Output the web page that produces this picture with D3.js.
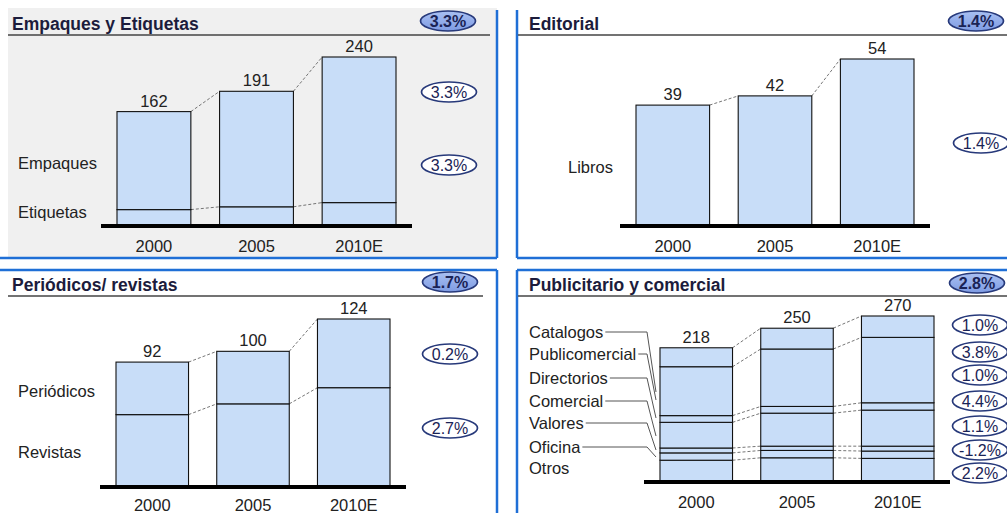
<!DOCTYPE html>
<html><head><meta charset="utf-8">
<script src="https://cdn.jsdelivr.net/npm/d3@7"></script>
<style>
html,body{margin:0;padding:0;background:#fff;}
svg{display:block;font-family:"Liberation Sans",Arial,sans-serif;}
</style></head>
<body>
<svg id="c" width="1007" height="513"></svg>
<script>
// ---------- data ----------
const years = ["2000", "2005", "2010E"];

// Empaques y Etiquetas
const etiquetas = [22, 26, 32];
const empaques = [140, 165, 208];
const growthEmpTitle = "3.3%";
const growthEmp = ["3.3%", "3.3%"]; // Empaques, Etiquetas

// Editorial
const libros = [39, 42, 54];
const growthEdiTitle = "1.4%";
const growthEdi = ["1.4%"];

// Periódicos / revistas
const revistas = [53, 61, 73];
const periodicos = [39, 39, 51];
const growthPerTitle = "1.7%";
const growthPer = ["0.2%", "2.7%"];

// Publicitario y comercial (bottom to top)
const otros = [34, 38, 37];
const oficina = [12, 12, 12];
const valores = [8, 7, 8];
const comercial = [42, 54, 59];
const directorios = [11, 11, 12];
const publicomercial = [80, 94, 107];
const catalogos = [31, 34, 35];
const growthPubTitle = "2.8%";
const growthPub = ["1.0%", "3.8%", "1.0%", "4.4%", "1.1%", "-1.2%", "2.2%"]; // top to bottom

// ---------- drawing ----------
const svg = d3.select("#c");
const BLUE = "#1f6fd6";
const LBL = 16.5;

// panel frames
svg.append("rect").attr("x", 8).attr("y", 8).attr("width", 489).attr("height", 250).attr("fill", "#f0f0f0");
const frame = [
  [497, 10, 497, 258], [0, 258, 497, 258],
  [517, 10, 517, 258], [517, 258, 1007, 258],
  [0, 270, 497, 270], [497, 270, 497, 513],
  [517, 270, 1007, 270], [517, 270, 517, 513]
];
svg.selectAll("line.frame").data(frame).enter().append("line").attr("class", "frame")
  .attr("x1", d => d[0]).attr("y1", d => d[1]).attr("x2", d => d[2]).attr("y2", d => d[3])
  .attr("stroke", BLUE).attr("stroke-width", 2.5);

const defs = svg.append("defs");
const gr = defs.append("linearGradient").attr("id", "ovalFill").attr("x1", 0).attr("y1", 0).attr("x2", 0).attr("y2", 1);
gr.append("stop").attr("offset", "0%").attr("stop-color", "#a9c0f2");
gr.append("stop").attr("offset", "100%").attr("stop-color", "#7e9be3");

function oval(g, cx, cy, txt, filled) {
  g.append("ellipse").attr("cx", cx).attr("cy", cy).attr("rx", 27.5).attr("ry", 10)
    .attr("fill", filled ? "url(#ovalFill)" : "#fff").attr("stroke", "#27397a").attr("stroke-width", 1.7);
  g.append("text").attr("x", cx).attr("y", cy + 5.5).attr("text-anchor", "middle")
    .attr("font-size", 16).attr("font-weight", filled ? "bold" : "normal").attr("fill", "#1a2355").text(txt);
}

function panel(cfg) {
  const g = svg.append("g");
  // title
  g.append("text").attr("x", cfg.titleX).attr("y", cfg.titleY).attr("font-size", 17.5).attr("font-weight", "bold")
    .attr("fill", "#1c1c3c").text(cfg.title);
  g.append("line").attr("x1", cfg.ulX[0]).attr("x2", cfg.ulX[1]).attr("y1", cfg.titleY + 5).attr("y2", cfg.titleY + 5)
    .attr("stroke", "#444").attr("stroke-width", 1.4);
  oval(g, cfg.titleOval[0], cfg.titleOval[1], cfg.titleGrowth, true);

  const x = d3.scaleBand().domain(years).range(cfg.xr).paddingInner(0.28).paddingOuter(0);
  const y = d3.scaleLinear().domain([0, cfg.maxV]).range([cfg.base, cfg.topY]);
  const keys = cfg.series.map((s, i) => "s" + i);
  const rows = years.map((yr, j) => {
    const r = { year: yr };
    cfg.series.forEach((s, i) => r["s" + i] = s[j]);
    return r;
  });
  const stacked = d3.stack().keys(keys)(rows);
  const bw = x.bandwidth();

  // connectors
  stacked.forEach(layer => {
    for (let j = 0; j < years.length - 1; j++) {
      g.append("line")
        .attr("x1", x(years[j]) + bw).attr("y1", y(layer[j][1]))
        .attr("x2", x(years[j + 1])).attr("y2", y(layer[j + 1][1]))
        .attr("stroke", "#666").attr("stroke-width", 0.9).attr("stroke-dasharray", "3,2");
    }
  });

  // bars
  stacked.forEach(layer => {
    g.selectAll(null).data(layer).enter().append("rect")
      .attr("x", d => x(d.data.year)).attr("width", bw)
      .attr("y", d => y(d[1])).attr("height", d => y(d[0]) - y(d[1]))
      .attr("fill", "#c8ddf8").attr("stroke", "#111").attr("stroke-width", 1.1);
  });

  // totals
  const totals = years.map((yr, j) => d3.sum(cfg.series, s => s[j]));
  g.selectAll(null).data(totals).enter().append("text")
    .attr("x", (d, j) => x(years[j]) + bw / 2).attr("y", d => y(d) - 5)
    .attr("text-anchor", "middle").attr("font-size", LBL).attr("fill", "#222").text(d => d);

  // axis
  g.append("line").attr("x1", cfg.xr[0] - 16).attr("x2", cfg.xr[1] + 16)
    .attr("y1", cfg.base + 1).attr("y2", cfg.base + 1).attr("stroke", "#000").attr("stroke-width", 4);
  const ax = g.append("g").attr("transform", `translate(0,${cfg.base})`)
    .call(d3.axisBottom(x).tickSize(0).tickPadding(cfg.tickPad));
  ax.select(".domain").remove();
  ax.selectAll("text").attr("font-size", LBL).attr("fill", "#222").attr("font-family", "Liberation Sans, Arial, sans-serif");

  // segment labels
  cfg.labels.forEach(l => {
    const t = g.append("text").attr("x", cfg.labelX).attr("y", l.y).attr("font-size", LBL).attr("fill", "#222").text(l.name);
    if (l.lead) {
      const end = cfg.labelX + t.node().getComputedTextLength();
      const cy = l.y - 6;
      const pts = end + 2 < cfg.leadX ? [[end + 2, cy], [cfg.leadX, cy], [cfg.leadEndX, l.lead]] : [[end + 2, cy], [cfg.leadEndX, l.lead]];
      g.append("path").attr("d", d3.line()(pts)).attr("fill", "none").attr("stroke", "#555").attr("stroke-width", 1);
    }
  });

  // growth ovals
  cfg.growth.forEach((gtxt, i) => oval(g, cfg.ovalX, cfg.ovalY[i], gtxt, false));
}

panel({
  title: "Empaques y Etiquetas", titleX: 12, titleY: 30, ulX: [8, 490], titleOval: [448, 21], titleGrowth: growthEmpTitle,
  series: [etiquetas, empaques], xr: [117, 396], base: 225, maxV: 240, topY: 57, tickPad: 15,
  labelX: 18, labels: [{ name: "Empaques", y: 169 }, { name: "Etiquetas", y: 218 }],
  ovalX: 449, ovalY: [92, 165], growth: growthEmp
});
panel({
  title: "Editorial", titleX: 529, titleY: 30, ulX: [518, 1007], titleOval: [976, 21], titleGrowth: growthEdiTitle,
  series: [libros], xr: [636, 914], base: 225, maxV: 54, topY: 59, tickPad: 15,
  labelX: 568, labels: [{ name: "Libros", y: 173 }],
  ovalX: 981, ovalY: [143], growth: growthEdi
});
panel({
  title: "Periódicos/ revistas", titleX: 12, titleY: 291, ulX: [8, 483], titleOval: [450, 282], titleGrowth: growthPerTitle,
  series: [revistas, periodicos], xr: [116, 390], base: 486, maxV: 124, topY: 319, tickPad: 13,
  labelX: 18, labels: [{ name: "Periódicos", y: 397 }, { name: "Revistas", y: 458 }],
  ovalX: 450, ovalY: [354, 428], growth: growthPer
});
panel({
  title: "Publicitario y comercial", titleX: 529, titleY: 291, ulX: [518, 1007], titleOval: [977, 283], titleGrowth: growthPubTitle,
  series: [otros, oficina, valores, comercial, directorios, publicomercial, catalogos], xr: [660, 934], base: 481, maxV: 270, topY: 316, tickPad: 15,
  labelX: 529, leadX: 647, leadEndX: 656,
  labels: [
    { name: "Catalogos", y: 338, lead: 392 },
    { name: "Publicomercial", y: 360, lead: 400 },
    { name: "Directorios", y: 384, lead: 418 },
    { name: "Comercial", y: 407, lead: 436 },
    { name: "Valores", y: 429, lead: 450 },
    { name: "Oficina", y: 453, lead: 457 },
    { name: "Otros", y: 474 }
  ],
  ovalX: 980, ovalY: [325, 352, 375, 401, 426, 450, 473], growth: growthPub
});
</script>
</body></html>
